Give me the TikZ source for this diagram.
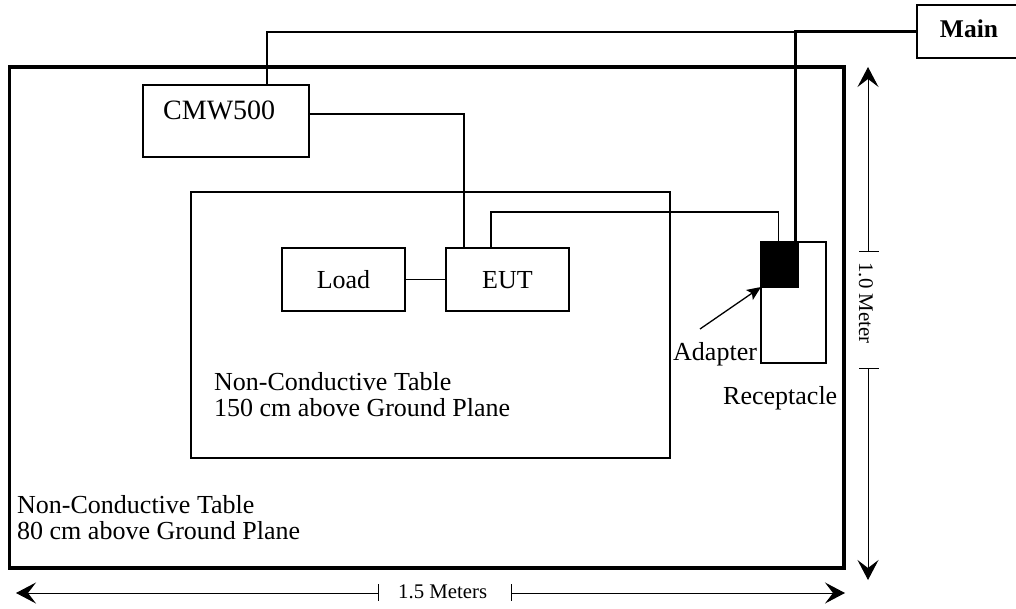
\documentclass[tikz,border=0pt]{standalone}
\usepackage{fontspec}
\setmainfont{Liberation Serif}
\usetikzlibrary{arrows.meta,calc}
\begin{document}
\begin{tikzpicture}[x=1pt,y=-1pt,
  thinl/.style={line width=1.3pt},
  thickl/.style={line width=3pt},
  boxn/.style={draw,line width=1.3pt,inner sep=0pt,outer sep=0pt},
  txt/.style={font=\fontsize{26}{26}\selectfont,inner sep=0pt,anchor=base west,align=left},
  small/.style={font=\fontsize{20.8}{21}\selectfont,inner sep=0pt},
  dim/.style={line width=1pt},
  bigtip/.style={-{Stealth[length=20pt,width=21pt,inset=8pt]}},
  bigtipl/.style={{Stealth[length=20pt,width=21pt,inset=8pt]}-}
]
\useasboundingbox (0,0) rectangle (1016,609);
% tables
\draw[line width=3.5pt] (9.5,67) rectangle (844,568);
\draw[thinl] (191,192) rectangle (670,458);
% boxes
\node[boxn,minimum width=166pt,minimum height=72pt] (cmw) at (226,121) {};
\node[txt,font=\fontsize{28}{28}\selectfont] (cmwt) at (163,120) {CMW500};
\node[boxn,minimum width=123pt,minimum height=63pt] (load) at (343.5,279.5) {};
\node[txt,anchor=base] (loadt) at (343.5,288) {Load};
\node[boxn,minimum width=123pt,minimum height=63pt] (eut) at (507.5,279.5) {};
\node[txt,anchor=base] (eutt) at (507.5,288) {EUT};
\node[boxn,minimum width=100pt,minimum height=53pt] (main) at (967,31.5) {};
\node[txt,anchor=base,font=\fontsize{25.5}{26}\selectfont\bfseries] (maint) at (969,38) {Main};
\node[boxn,minimum width=65pt,minimum height=121pt] (rec) at (793.5,302.5) {};
\node[boxn,fill=black,minimum width=37pt,minimum height=45pt] (adapter) at (779.5,264.5) {};
% texts
\node[txt] (t150) at (214,416) {Non-Conductive Table\\150 cm above Ground Plane};
\node[txt] (t80) at (17,539) {Non-Conductive Table\\80 cm above Ground Plane};
\node[txt] (adt) at (673,360) {Adapter};
\node[txt] (rect) at (723,404) {Receptacle};
% connectors
\coordinate (j) at (797,32);
\draw[thinl] ([xshift=41pt]cmw.north) |- (j);
\draw[thickl] (main.west) -| ([xshift=-2.5pt]adapter.north east);
\draw[thinl] ([yshift=7pt]cmw.east) -| ([xshift=-43.5pt]eut.north);
\draw[thinl] ([xshift=-16.5pt]eut.north) -- ++(0,-36) -| ([xshift=-1pt]adapter.north);
\draw[thinl] (load.east) -- (eut.west);
\coordinate (adfrom) at (700,329);
\draw[thinl,-{Stealth[length=14pt,width=12pt,inset=3pt]}] (adfrom) -- (adapter.south west);
% vertical dimension
\coordinate (vt) at (868,67);
\coordinate (vu) at (868,252);
\coordinate (vl) at (868,368);
\coordinate (vb) at (868,580);
\draw[dim,bigtipl] (vt) -- (vu);
\draw[dim] ([xshift=-9pt]vu) -- ([xshift=11pt]vu);
\draw[dim] ([xshift=-9pt]vl) -- ([xshift=11pt]vl);
\draw[dim,bigtip] (vl) -- (vb);
\node[small,rotate=-90] (vtext) at (866,303) {1.0 Meter};
% horizontal dimension
\coordinate (hl) at (16,593);
\coordinate (ha) at (378,593);
\coordinate (hb) at (511,593);
\coordinate (hr) at (845,593);
\draw[dim,bigtipl] (hl) -- (ha);
\draw[dim] ([yshift=9pt]ha) -- ([yshift=-8pt]ha);
\draw[dim] ([yshift=9pt]hb) -- ([yshift=-8pt]hb);
\draw[dim,bigtip] (hb) -- (hr);
\node[small,anchor=base west] (htext) at (398,598) {1.5 Meters};
\end{tikzpicture}
\end{document}
